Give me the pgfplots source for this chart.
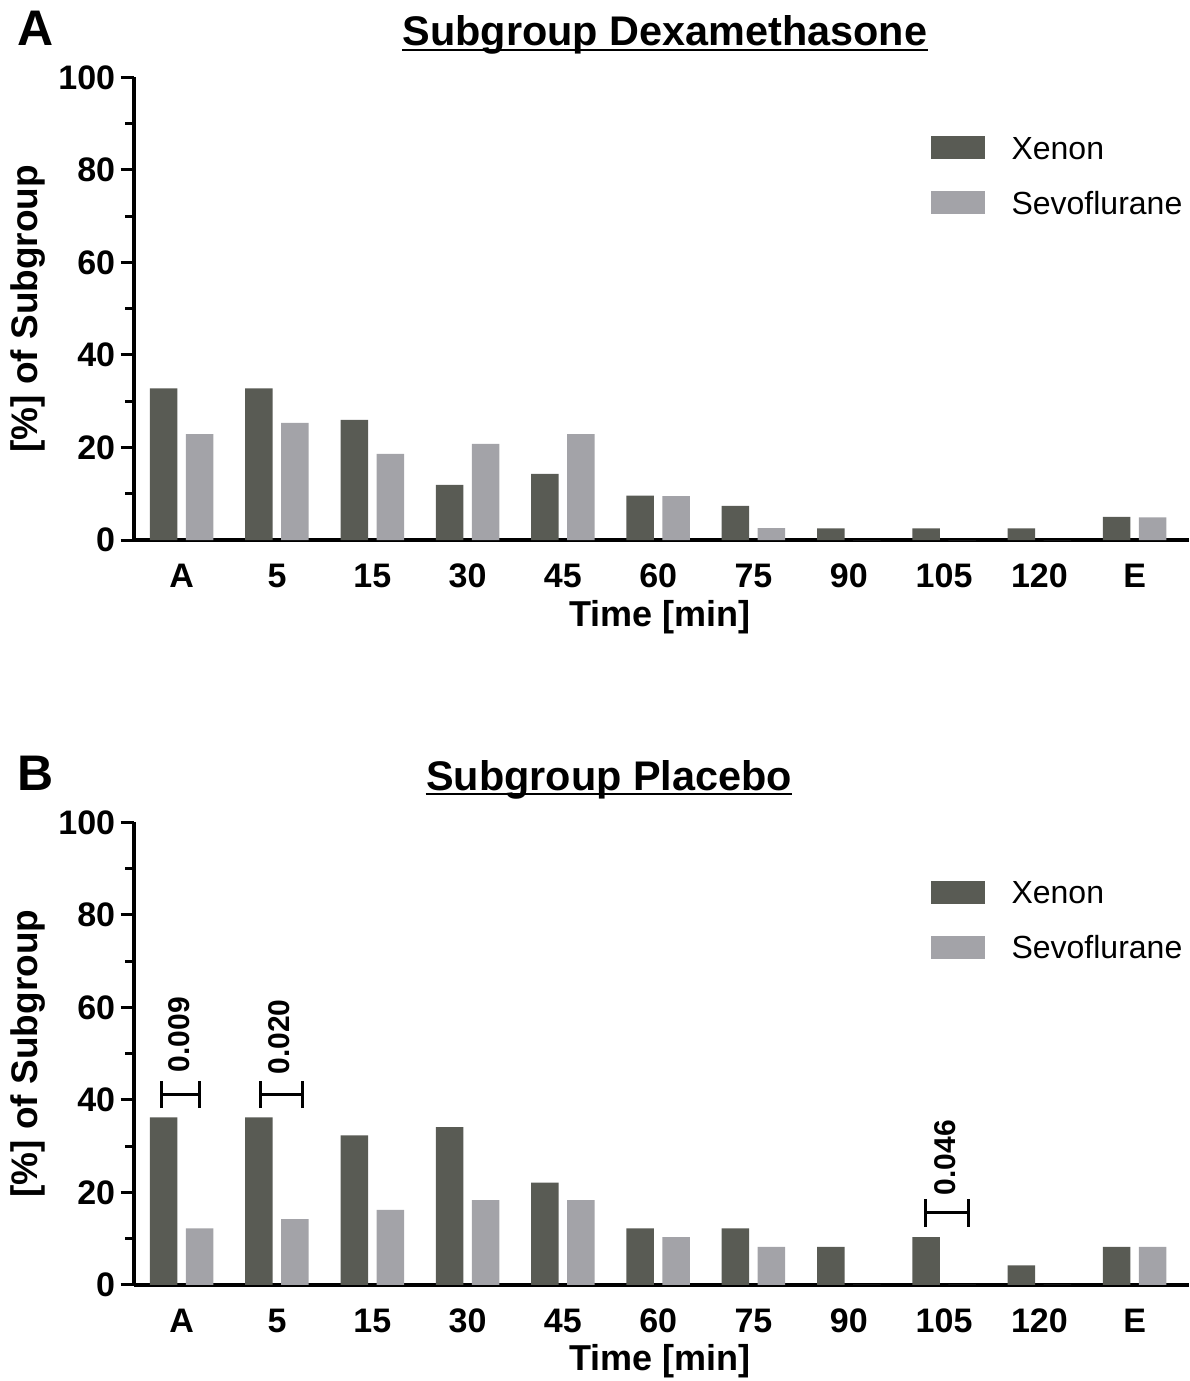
\documentclass[border=0pt]{standalone}
\usepackage{fontspec}
\setmainfont{Liberation Sans}
\usepackage{pgfplots}
\pgfplotsset{compat=1.18}
\usepackage{pgfplotstable}

\definecolor{xenon}{RGB}{89,91,84}
\definecolor{sevo}{RGB}{163,163,168}

% columns: category index, Xenon, Sevoflurane  [% of subgroup]
\pgfplotstableread{
cat xen sevo
0  32.8 22.9
1  32.8 25.3
2  26.0 18.6
3  11.9 20.8
4  14.3 22.9
5  9.6  9.5
6  7.4  2.55
7  2.5  0
8  2.5  0
9  2.5  0
10 5.0  4.9
}\dexa
\pgfplotstableread{
cat xen sevo
0  36.2 12.2
1  36.2 14.2
2  32.3 16.2
3  34.1 18.3
4  22.1 18.3
5  12.2 10.3
6  12.2 8.2
7  8.2  0
8  10.3 0
9  4.2  0
10 8.2  8.2
}\plac

\pgfplotsset{
  panel/.style={
    scale only axis,
    width=527.5pt, height=231.25pt,
    xmin=-0.5, xmax=10.57,
    ymin=0, ymax=100,
    axis lines*=left,
    axis line style={line width=2pt},
    xtick={0,...,10},
    xticklabels={A,5,15,30,45,60,75,90,105,120,E},
    major x tick style={draw=none},
    ytick={0,20,...,100},
    minor y tick num=1,
    tick align=outside,
    major tick length=6.75pt,
    minor tick length=4.5pt,
    every tick/.style={line width=1.5pt, black},
    /pgf/number format/assume math mode=true,
    tick label style={font=\fontsize{17}{20}\selectfont\bfseries},
    xticklabel style={anchor=base, inner sep=0pt, yshift=-17pt},
    yticklabel style={anchor=east, inner sep=0pt, xshift=-2.5pt},
    ybar, bar width=13.75pt,
    legend style={draw=none, fill=none, inner sep=0pt, outer sep=0pt,
      anchor=north west, at={(rel axis cs:0.755,0.8735)},
      row sep=14.5pt, column sep=13.5pt,
      nodes={inner sep=0pt, anchor=base west},
      font=\fontsize{16}{19}\selectfont},
    legend cell align=left,
    legend image code/.code={\fill[##1] (0pt,0pt) rectangle (27pt,11.5pt);},
  },
}
\tikzset{
  pnote/.style={rotate=90, anchor=base west, inner sep=0pt,
    font=\fontsize{15}{18}\selectfont\bfseries},
}

\begin{document}
\begin{tikzpicture}
\useasboundingbox (-67pt,-420.5pt) rectangle (527.5pt,270pt);

% ---- A: Dexamethasone ----
\begin{axis}[panel, name=top, at={(0,0)}, anchor=south west]
\addplot[fill=xenon, draw=none, bar shift=-9pt] table[x=cat, y=xen] {\dexa};
\addlegendentry{Xenon}
\addplot[fill=sevo, draw=none, bar shift=9pt] table[x=cat, y=sevo] {\dexa};
\addlegendentry{Sevoflurane}
\end{axis}

% ---- B: Placebo ----
\begin{axis}[panel, name=bot, at={(0,-372.4pt)}, anchor=south west]
\addplot[fill=xenon, draw=none, bar shift=-9pt] table[x=cat, y=xen] {\plac};
\addlegendentry{Xenon}
\addplot[fill=sevo, draw=none, bar shift=9pt] table[x=cat, y=sevo] {\plac};
\addlegendentry{Sevoflurane}
% p-value brackets
\draw[line width=1.5pt] (axis cs:-0.21,41.1) -- (axis cs:0.19,41.1)
  (axis cs:-0.21,38.2) -- (axis cs:-0.21,44.0)
  (axis cs:0.19,38.2) -- (axis cs:0.19,44.0);
\node[pnote] at (axis cs:0.084,45.9) {0.009};
\draw[line width=1.5pt] (axis cs:0.827,41.1) -- (axis cs:1.269,41.1)
  (axis cs:0.827,38.2) -- (axis cs:0.827,44.0)
  (axis cs:1.269,38.2) -- (axis cs:1.269,44.0);
\node[pnote] at (axis cs:1.128,45.4) {0.020};
\draw[line width=1.5pt] (axis cs:7.802,15.7) -- (axis cs:8.251,15.7)
  (axis cs:7.802,12.6) -- (axis cs:7.802,18.6)
  (axis cs:8.251,12.6) -- (axis cs:8.251,18.6);
\node[pnote] at (axis cs:8.123,19.3) {0.046};
\end{axis}

% titles, panel letters, axis labels
\foreach \ax/\ttl/\dx/\lt in {top/Subgroup Dexamethasone/1.75pt/A, bot/Subgroup Placebo/-26.25pt/B} {
  \node[anchor=base, inner sep=0pt, font=\fontsize{20.7}{24}\selectfont\bfseries]
    (t-\ax) at ([xshift=\dx, yshift=247pt]\ax.south) {\ttl};
  \draw[line width=1pt] ([yshift=-1.8pt]t-\ax.base west) -- ([yshift=-1.8pt]t-\ax.base east);
  \node[anchor=base west, inner sep=0pt, font=\fontsize{25}{29}\selectfont\bfseries]
    at ([xshift=-58.5pt, yshift=247pt]\ax.south west) {\lt};
  \node[rotate=90, anchor=base, inner sep=0pt, font=\fontsize{18.5}{22}\selectfont\bfseries]
    at ([xshift=-48.25pt]\ax.west) {[\%] of Subgroup};
  \node[anchor=base, inner sep=0pt, font=\fontsize{18}{22}\selectfont\bfseries]
    at ([xshift=-0.75pt, yshift=-43pt]\ax.south) {Time [min]};
}
\end{tikzpicture}
\end{document}
